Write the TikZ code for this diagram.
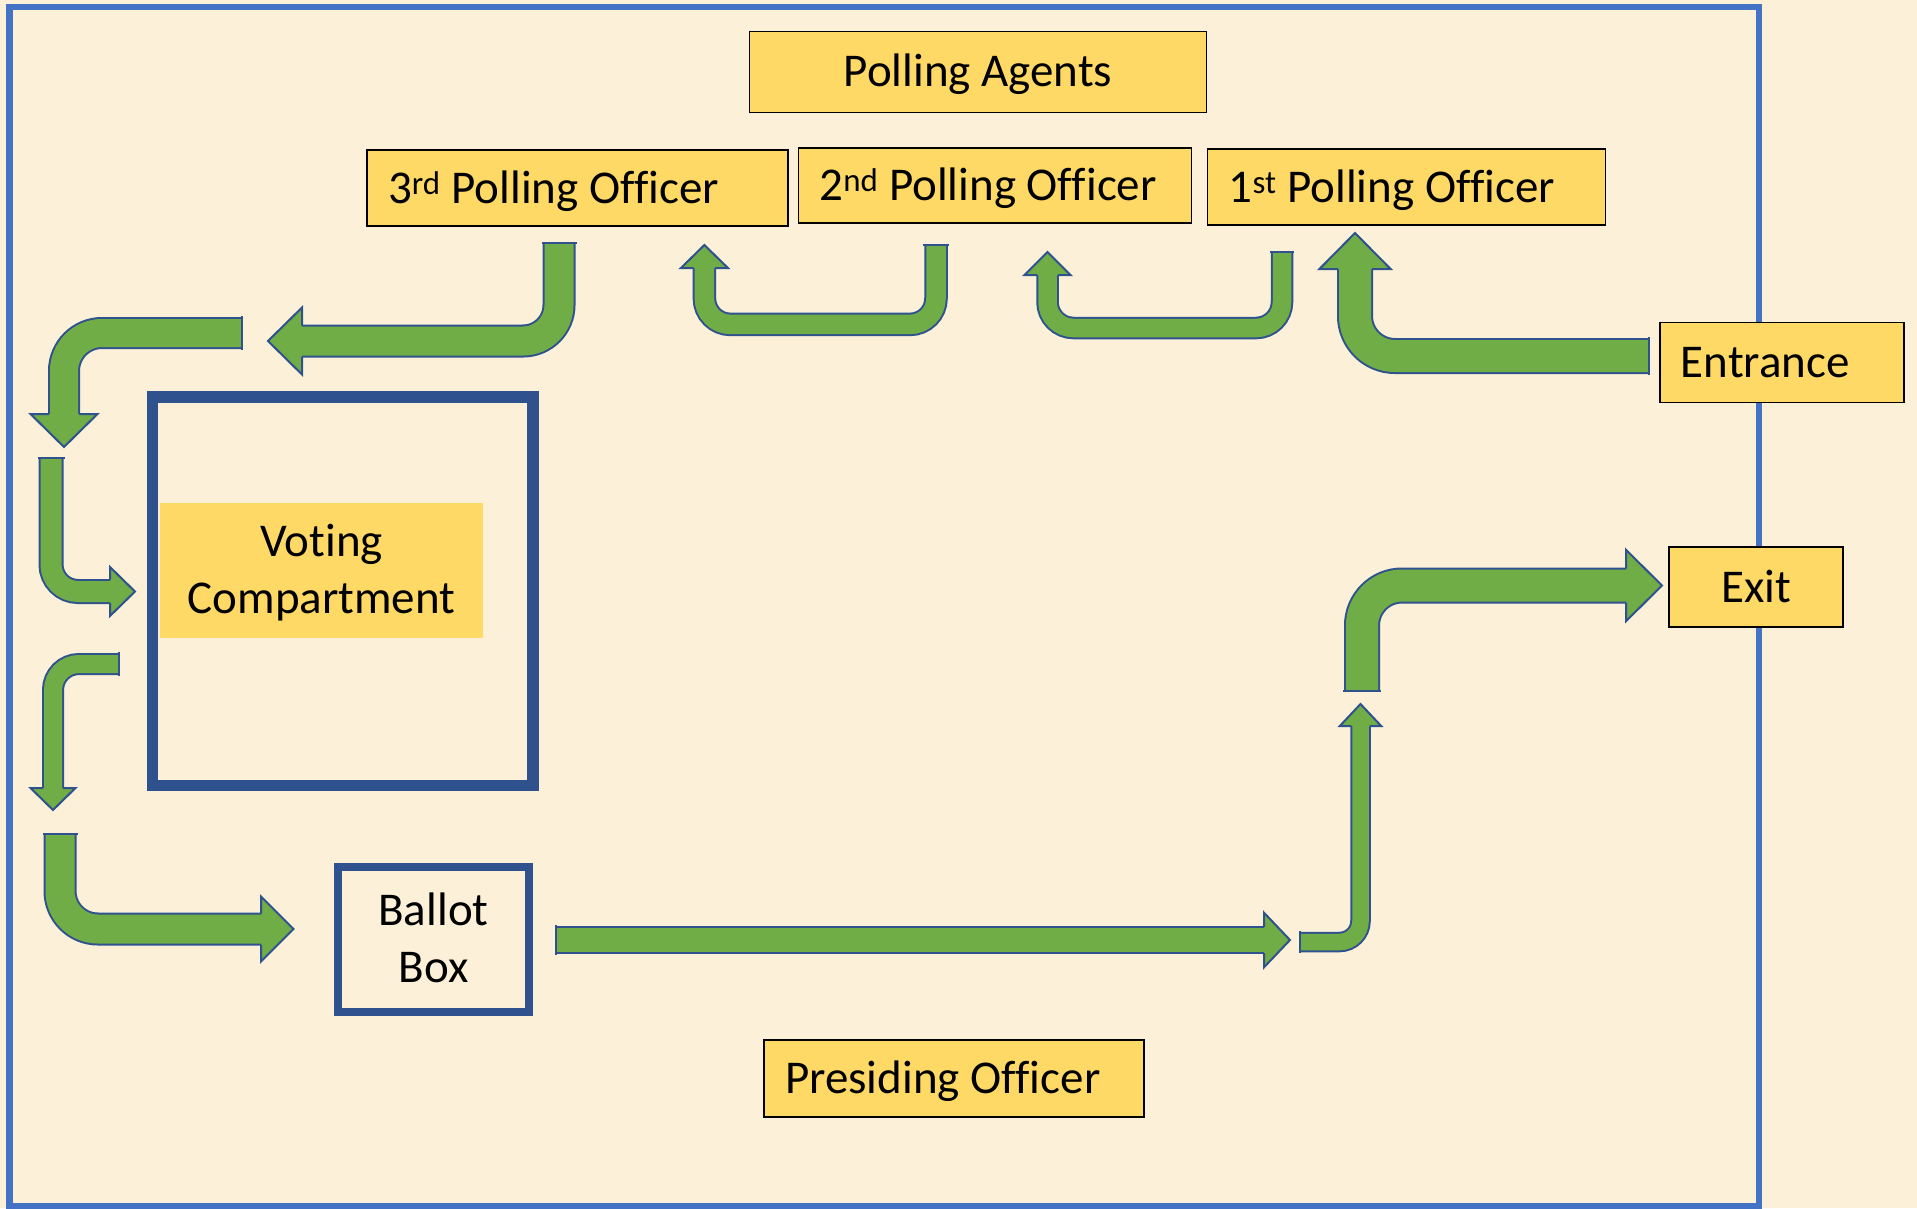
\documentclass[tikz,border=0pt]{standalone}
\usepackage{fontspec}
\setmainfont{Carlito}[Ligatures=CommonOff]
\definecolor{parchment}{HTML}{FCF1D8}
\definecolor{deskyellow}{HTML}{FFD966}
\definecolor{flowgreen}{HTML}{70AD47}
\definecolor{flowblue}{HTML}{2F528F}
\definecolor{frameblue}{HTML}{4472C4}
\tikzset{desk/.style={draw=black, line width=1.5pt, fill=deskyellow, inner xsep=21pt, inner ysep=0pt, text height=29.7pt, text depth=0pt}}
\tikzset{flow/.style={draw=flowblue, line width=2pt, double=flowgreen, double distance=#1}}
\tikzset{flowhead/.style={fill=flowgreen, draw=flowblue, line width=2pt}}
\tikzset{flowtail/.style={draw=flowblue, line width=2pt, line cap=rect}}

\begin{document}
\begin{tikzpicture}[x=1pt, y=-1pt, font=\fontsize{47}{57}\selectfont]
            \useasboundingbox (0,0) rectangle (1917,1208);
            \fill[parchment] (0,0) rectangle (1917,1208);
            \draw[frameblue, line width=6.5pt] (9.5,7) rectangle (1759,1206);
            \draw[flowblue, line width=11.5pt] (152.3,397) rectangle (532.8,785.5);
            \node[desk, minimum width=457pt, minimum height=81pt] (agents) at (978,72) {Polling Agents};
            \node[desk, align=flush left, text width=379pt, minimum height=76pt] (po3) at (577.6,188.2) {3\textsuperscript{rd} Polling Officer};
            \node[desk, align=flush left, text width=351pt, minimum height=75pt] (po2) at (995,185.4) {2\textsuperscript{nd} Polling Officer};
            \node[desk, align=flush left, text width=356pt, minimum height=76pt] (po1) at (1406.7,187.2) {1\textsuperscript{st} Polling Officer};
            \node[desk, align=flush left, text width=202pt, minimum height=80pt] (entrance) at (1781.9,362.5) {Entrance};
            \node[desk, minimum width=174pt, minimum height=80pt] (exit) at (1756,587.2) {Exit};
            \node[desk, align=flush left, text width=338pt, minimum height=77pt] (presiding) at (954.1,1078.4) {Presiding Officer};
            \node[fill=deskyellow, minimum width=323pt, minimum height=135pt, align=center, text height=86.7pt, text depth=0pt] (booth) at (321.5,570.5) {Voting\\Compartment};
            \node[draw=flowblue, line width=8pt, minimum width=191pt, minimum height=145pt, align=center, text height=86.7pt, text depth=0pt] (ballot) at (433.5,939.5) {Ballot\\Box};
            \draw[flow=29pt, rounded corners=36pt] (559,243) -- (559,341) -- (302,341);
            \draw[flowtail] (542.5,243) -- (575.5,243);
            \filldraw[flowhead, shift={(268,341)}, rotate=180] (-34,15.5) -- (-34,33.5) -- (0,0) -- (-34,-33.5) -- (-34,-15.5);
            \draw[flow=28pt, rounded corners=38pt] (242,333) -- (64,333) -- (64,414);
            \draw[flowtail] (242,317) -- (242,349);
            \filldraw[flowhead, shift={(64,447)}, rotate=-90] (-33,15) -- (-33,33.5) -- (0,0) -- (-33,-33.5) -- (-33,-15);
            \draw[flow=21pt, rounded corners=27pt] (51,458) -- (51,591.5) -- (110,591.5);
            \draw[flowtail] (38.5,458) -- (63.5,458);
            \filldraw[flowhead, shift={(135,591.5)}] (-25,11.5) -- (-25,24.5) -- (0,0) -- (-25,-24.5) -- (-25,-11.5);
            \draw[flow=18pt, rounded corners=26pt] (119,664) -- (53,664) -- (53,788);
            \draw[flowtail] (119,653) -- (119,675);
            \filldraw[flowhead, shift={(53,810)}, rotate=-90] (-22,10) -- (-22,22.5) -- (0,0) -- (-22,-22.5) -- (-22,-10);
            \draw[flow=29pt, rounded corners=38pt] (60,834) -- (60,929) -- (261,929);
            \draw[flowtail] (43.5,834) -- (76.5,834);
            \filldraw[flowhead, shift={(293.5,929)}] (-32.5,15.5) -- (-32.5,32.5) -- (0,0) -- (-32.5,-32.5) -- (-32.5,-15.5);
            \draw[flow=19.5pt, rounded corners=26pt] (936,245) -- (936,324.4) -- (704.4,324.4) -- (704.4,268);
            \draw[flowtail] (924.25,245) -- (947.75,245);
            \filldraw[flowhead, shift={(704.4,245)}, rotate=90] (-23,10.75) -- (-23,23.5) -- (0,0) -- (-23,-23.5) -- (-23,-10.75);
            \draw[flow=18.5pt, rounded corners=26pt] (1282,252) -- (1282,328) -- (1047.5,328) -- (1047.5,275);
            \draw[flowtail] (1270.75,252) -- (1293.25,252);
            \filldraw[flowhead, shift={(1047.5,252)}, rotate=90] (-23,10.25) -- (-23,23) -- (0,0) -- (-23,-23) -- (-23,-10.25);
            \draw[flow=32pt, rounded corners=40pt] (1649,356) -- (1355,356) -- (1355,269);
            \draw[flowtail] (1649,338) -- (1649,374);
            \filldraw[flowhead, shift={(1355,233)}, rotate=90] (-36,17) -- (-36,35.6) -- (0,0) -- (-36,-35.6) -- (-36,-17);
            \draw[flow=32pt, rounded corners=40pt] (1362,691) -- (1362,585.5) -- (1626,585.5);
            \draw[flowtail] (1344,691) -- (1380,691);
            \filldraw[flowhead, shift={(1662,585.5)}] (-36,17) -- (-36,35.7) -- (0,0) -- (-36,-35.7) -- (-36,-17);
            \draw[flow=16.5pt, rounded corners=21pt] (1299.5,942) -- (1360.5,942) -- (1360.5,726);
            \draw[flowtail] (1299.5,931.75) -- (1299.5,952.25);
            \filldraw[flowhead, shift={(1360.5,704)}, rotate=90] (-22,9.25) -- (-22,20.7) -- (0,0) -- (-22,-20.7) -- (-22,-9.25);
            \draw[flow=24pt] (556,940) -- (1264,940);
            \draw[flowtail] (556,926) -- (556,954);
            \filldraw[flowhead, shift={(1290,940)}] (-26,13) -- (-26,27.3) -- (0,0) -- (-26,-27.3) -- (-26,-13);
        \end{tikzpicture}
\end{document}
